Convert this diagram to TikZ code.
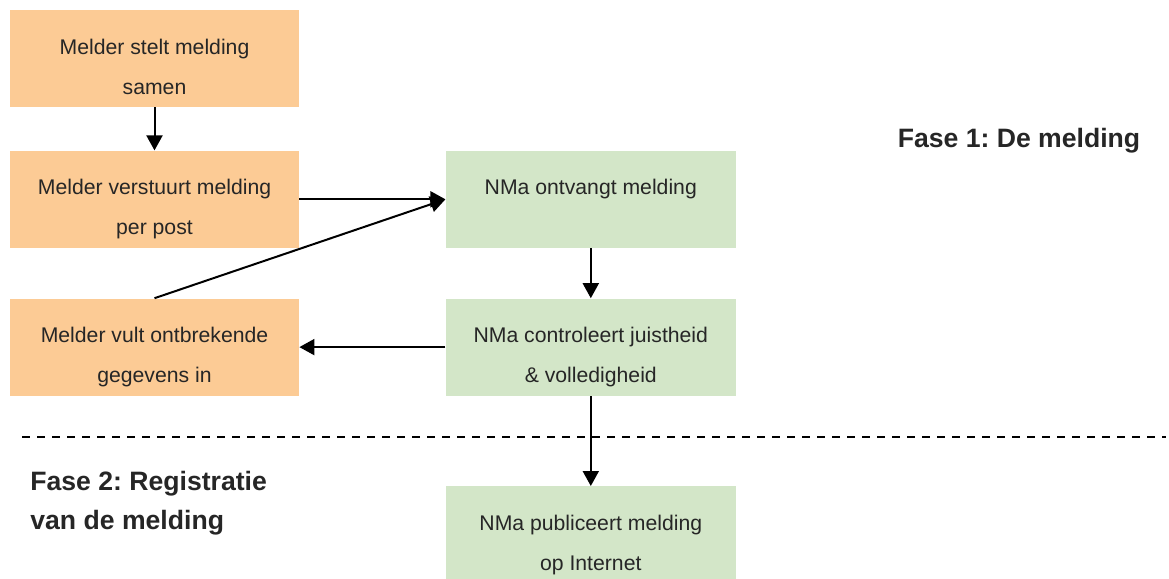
\documentclass[tikz,border=0pt]{standalone}
\usepackage{fontspec}
\setmainfont{Liberation Sans}
\usepackage{tikz}
\usetikzlibrary{arrows.meta,positioning}
\definecolor{melderoranje}{HTML}{FCCB95}
\definecolor{nmagroen}{HTML}{D3E6C8}
\definecolor{tekst}{HTML}{262626}
\frenchspacing
\tikzset{
    stap/.style={align=center, inner xsep=0pt, inner ysep=0pt,
        text height=22pt, text depth=26.5pt, text=tekst,
        font=\fontsize{10.6pt}{20pt}\selectfont},
    tweeregels/.style={text height=42pt, text depth=6.5pt},
    melder/.style={stap, tweeregels, fill=melderoranje, minimum width=144.5pt},
    nma/.style={stap, fill=nmagroen, minimum width=145pt},
    fase/.style={inner sep=0pt, text=tekst, font=\fontsize{13.3pt}{19.5pt}\selectfont\bfseries},
    pijl/.style={line width=1pt, -{Triangle[length=7.5pt, width=8pt]}}
}

\begin{document}
\begin{tikzpicture}
  [
    x = 0.5pt,
    y = -0.5pt,
  ]
  \useasboundingbox (0,0) rectangle (1169,579);
  % melder
  \node [melder] (stelt) at (154.5,58.5) {Melder stelt melding\\samen};
  \node [melder, below=21.5pt of stelt] (verstuurt) {Melder verstuurt melding\\per post};
  \node [melder, below=25pt of verstuurt] (vult) {Melder vult ontbrekende\\gegevens in};
  % NMa
  \node [nma, right=73pt of verstuurt] (ontvangt) {NMa ontvangt melding};
  \node [nma, tweeregels, below=25pt of ontvangt] (controleert) {NMa controleert juistheid\\\& volledigheid};
  \node [nma, tweeregels, below=45pt of controleert] (publiceert) {NMa publiceert melding\\op Internet};
  % fasen
  \node [fase] (fase1) at (1019,141) {Fase 1: De melding};
  \node [fase, anchor=west, align=left] (fase2) at (30,503) {Fase 2: Registratie\\van de melding};
  \coordinate (grensl) at (22,437);
  \coordinate (grensr) at (1166,437);
  \draw [line width=1pt, dash pattern=on 4pt off 3.5pt] (grensl) -- (grensr);
  % pijlen
  \draw [pijl] (stelt) -- (verstuurt);
  \draw [pijl] (verstuurt) -- (ontvangt);
  \draw [pijl] (vult.north) -- (ontvangt.west);
  \draw [pijl] (ontvangt) -- (controleert);
  \draw [pijl] (controleert) -- (vult);
  \draw [pijl] (controleert) -- (publiceert);
\end{tikzpicture}
\end{document}
